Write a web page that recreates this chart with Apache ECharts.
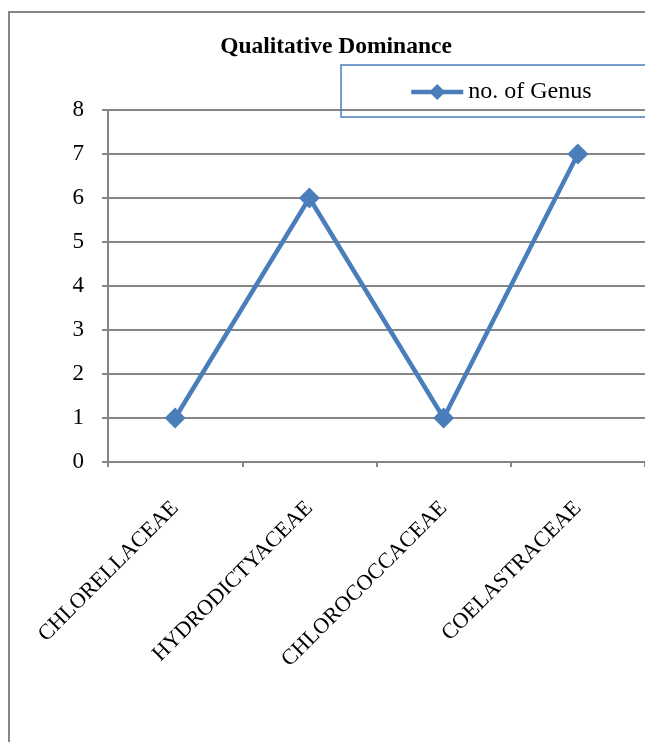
<!DOCTYPE html>
<html>
<head>
<meta charset="utf-8">
<script src="https://cdn.jsdelivr.net/npm/echarts@6/dist/echarts.min.js"></script>
<style>
  html, body { margin: 0; padding: 0; background: #fff; }
  #main { width: 645px; height: 742px; }
</style>
</head>
<body>
<div id="main"></div>
<script>
const families = ['CHLORELLACEAE', 'HYDRODICTYACEAE', 'CHLOROCOCCACEAE', 'COELASTRACEAE'];
const genusCount = [1, 6, 1, 7];
const yTicks = [0, 8, 1]; // min, max, interval

const serif = '"Liberation Serif", "Times New Roman", serif';
const gray = '#868686';
const blue = '#4a7ebb';

const chart = echarts.init(document.getElementById('main'));
chart.setOption({
  animation: false,
  graphic: [{
    type: 'rect',
    shape: { x: 9, y: 12, width: 700, height: 800 },
    style: { fill: 'none', stroke: gray, lineWidth: 2 },
    z: -1
  }],
  title: {
    text: 'Qualitative Dominance',
    left: 331,
    textAlign: 'center',
    top: 30,
    textStyle: { fontFamily: serif, fontSize: 23.5, fontWeight: 'bold', color: '#000' }
  },
  legend: {
    left: 341,
    top: 65,
    padding: [15, 90, 13, 68],
    borderColor: blue,
    borderWidth: 1.5,
    itemWidth: 52,
    itemHeight: 20,
    itemGap: 5,
    lineStyle: { width: 4.5 },
    textStyle: { fontFamily: serif, fontSize: 24, color: '#000' },
    data: ['no. of Genus']
  },
  grid: { left: 108, right: -3, top: 110, bottom: 280 },
  xAxis: {
    type: 'category',
    data: families,
    boundaryGap: true,
    axisLine: { lineStyle: { color: gray, width: 2 } },
    axisTick: { show: true, length: 5, lineStyle: { color: gray, width: 2 } },
    axisLabel: {
      rotate: 45,
      margin: 43,
      interval: 0,
      fontFamily: serif,
      fontSize: 22,
      color: '#000'
    }
  },
  yAxis: {
    type: 'value',
    min: yTicks[0],
    max: yTicks[1],
    interval: yTicks[2],
    axisLine: { show: true, lineStyle: { color: gray, width: 2 } },
    axisTick: { show: true, length: 6, lineStyle: { color: gray, width: 2 } },
    splitLine: { lineStyle: { color: gray, width: 2 } },
    axisLabel: { margin: 24, fontFamily: serif, fontSize: 23, color: '#000' }
  },
  series: [{
    name: 'no. of Genus',
    type: 'line',
    data: genusCount,
    symbol: 'diamond',
    symbolSize: 21,
    lineStyle: { color: blue, width: 4.5 },
    itemStyle: { color: blue }
  }]
});
</script>
</body>
</html>
